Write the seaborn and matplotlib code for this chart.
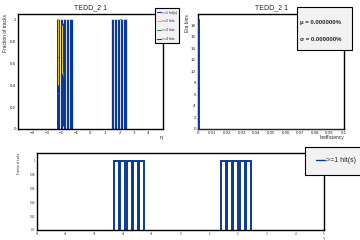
import numpy as np
import pandas as pd
import seaborn as sns
import matplotlib.pyplot as plt
from matplotlib.ticker import MultipleLocator
from matplotlib.lines import Line2D

# eta bins where tracks were found (>=1 hit efficiency)
eta_edges = [-2.34, -2.12, -1.90, -1.68, -1.46, -1.24,
             1.38, 1.60, 1.82, 2.04, 2.26, 2.48]
eta_centers = [-2.23, -2.01, -1.79, -1.57, -1.35, 1.49, 1.71, 1.93, 2.15, 2.37]
eff_1hit = [1.0] * 10

# >=2 hits
eff2_eta = [-2.30, -2.25, -1.95, -1.79, -1.57, -1.35, 1.49, 1.71, 1.93, 2.15, 2.37]
eff2_val = [0.33, 1.0, 0.67, 1.0, 1.0, 1.0, 1.0, 1.0, 1.0, 1.0, 1.0]
eff2_lo = [0.05, 0.40, 0.50, 1.0, 1.0, 1.0, 1.0, 1.0, 1.0, 1.0, 1.0]
eff2_hi = [0.38, 1.0, 0.95, 1.0, 1.0, 1.0, 1.0, 1.0, 1.0, 1.0, 1.0]
# >=3 hits
eff3_eta = [-1.88]
eff3_val = [0.5]
eff3_lo = [0.48]
eff3_hi = [0.52]
# >=4 hits
eff4_eta = [-2.30, -1.93, 2.06]
eff4_val = [0.66, 0.5, 1.0]
eff4_lo = [0.0, 0.03, 1.0]
eff4_hi = [1.0, 0.97, 1.0]

# inefficiency per eta bin
ineff = [0.0] * 19

blue = '#0b3a96'
yellow = '#f5c400'
green = '#2ca02c'
brown = '#5a2a0a'

sns.set_style('white')
plt.rcParams['font.family'] = ['Liberation Sans', 'DejaVu Sans']
plt.rcParams['axes.linewidth'] = 1.0
plt.rcParams['hatch.color'] = 'white'

fig = plt.figure(figsize=(3.6, 2.4), dpi=100)
ax1 = fig.add_axes([0.05, 0.4625, 0.403, 0.48])
ax2 = fig.add_axes([0.55, 0.4625, 0.406, 0.48])
ax3 = fig.add_axes([0.103, 0.042, 0.797, 0.32])

df = pd.DataFrame({'eta': eta_centers, 'eff': eff_1hit})
sns.histplot(data=df, x='eta', weights='eff', bins=eta_edges, ax=ax1, color=blue,
             alpha=1, edgecolor='white', linewidth=0.5)


def draw_eff(ax, x, v, lo, hi, col):
    v = np.array(v)
    ax.errorbar(x, v, yerr=[v - np.array(lo), np.array(hi) - v],
                xerr=0.04, fmt='none', ecolor=col, elinewidth=0.7)


draw_eff(ax1, eff2_eta, eff2_val, eff2_lo, eff2_hi, yellow)
draw_eff(ax1, eff4_eta, eff4_val, eff4_lo, eff4_hi, brown)
draw_eff(ax1, eff3_eta, eff3_val, eff3_lo, eff3_hi, green)

ax1.set_xlim(-5, 5)
ax1.set_ylim(0, 1.05)
ax1.set_title('TEDD_2 1', fontsize=5, pad=3)
ax1.set_ylabel('Fraction of tracks', fontsize=3.5, loc='top', labelpad=1)
ax1.set_xlabel('η', fontsize=4, loc='right', labelpad=0)
ax1.set_xticks(range(-4, 5))
ax1.xaxis.set_minor_locator(MultipleLocator(0.2))
ax1.set_yticks([0, 0.2, 0.4, 0.6, 0.8, 1])
ax1.set_yticklabels(['0', '0.2', '0.4', '0.6', '0.8', '1'])
ax1.yaxis.set_minor_locator(MultipleLocator(0.05))

handles = [Line2D([], [], color=c, lw=0.8) for c in (blue, yellow, green, brown)]
leg = fig.legend(handles, ['>=1 hit(s)', '>=2 hits', '>=3 hits', '>=4 hits'],
                 loc='upper left', bbox_to_anchor=(0.425, 0.972), fontsize=2.5,
                 frameon=True, fancybox=False, edgecolor='black', facecolor='#f2f2f2',
                 handlelength=1.2, handletextpad=0.3, labelspacing=1.4, borderpad=0.6,
                 framealpha=1)
leg.get_frame().set_linewidth(0.8)

sns.histplot(x=ineff, bins=np.linspace(0, 0.1, 101), ax=ax2, color=blue, alpha=1,
             edgecolor=blue, linewidth=0.6, hatch='...', zorder=5, clip_on=False)
ax2.set_xlim(0, 0.1)
ax2.set_ylim(0, 19.95)
ax2.set_title('TEDD_2 1', fontsize=5, pad=3)
ax2.set_ylabel('Eta bins', fontsize=3.5, loc='top', labelpad=1)
ax2.set_xlabel('Inefficiency', fontsize=3.5, loc='right', labelpad=0)
ax2.set_xticks(np.arange(0, 0.1001, 0.01))
ax2.set_xticklabels(['0', '0.01', '0.02', '0.03', '0.04', '0.05', '0.06', '0.07',
                     '0.08', '0.09', '0.1'])
ax2.xaxis.set_minor_locator(MultipleLocator(0.002))
ax2.yaxis.set_major_locator(MultipleLocator(2))
ax2.yaxis.set_minor_locator(MultipleLocator(0.5))

fig.patches.append(plt.Rectangle((0.825, 0.792), 0.153, 0.18, transform=fig.transFigure,
                                 facecolor='#f2f2f2', edgecolor='black', lw=0.8, zorder=0))
fig.text(0.833, 0.905, 'μ = 0.000000%', fontsize=4.3, fontweight='bold', va='center')
fig.text(0.833, 0.835, 'σ = 0.000000%', fontsize=4.3, fontweight='bold', va='center')

sns.histplot(data=df, x='eta', weights='eff', bins=eta_edges, ax=ax3, fill=False,
             element='bars', shrink=0.8, color=blue, edgecolor=blue, linewidth=1.4)
ax3.set_xlim(-5, 5)
ax3.set_ylim(0.9, 1.011)
ax3.set_ylabel('Fraction of tracks', fontsize=2, loc='top', labelpad=6)
ax3.set_xlabel('η', fontsize=2, loc='right', labelpad=0)
ax3.xaxis.set_major_locator(MultipleLocator(1))
ax3.xaxis.set_minor_locator(MultipleLocator(0.2))
ax3.set_yticks([0.9, 0.92, 0.94, 0.96, 0.98, 1.0])
ax3.set_yticklabels(['0.9', '0.92', '0.94', '0.96', '0.98', '1'])
ax3.yaxis.set_minor_locator(MultipleLocator(0.004))

leg3 = fig.legend([Line2D([], [], color=blue, lw=1.0)], ['>=1 hit(s)'],
                  loc='upper left', bbox_to_anchor=(0.848, 0.388), fontsize=5,
                  frameon=True, fancybox=False, edgecolor='black', facecolor='#f2f2f2',
                  handlelength=1.3, handletextpad=0.2, borderpad=1.5, borderaxespad=0,
                  framealpha=1)
leg3.get_frame().set_linewidth(0.8)

for ax, fs in ((ax1, 3.2), (ax2, 3.2), (ax3, 2)):
    ax.tick_params(which='both', direction='in', top=False, right=False,
                   labelsize=fs, pad=1.5, width=0.8)
    ax.tick_params(which='major', length=4)
    ax.tick_params(which='minor', length=2)
    for s in ax.spines.values():
        s.set_color('black')

fig.savefig('out.png', dpi=100)
